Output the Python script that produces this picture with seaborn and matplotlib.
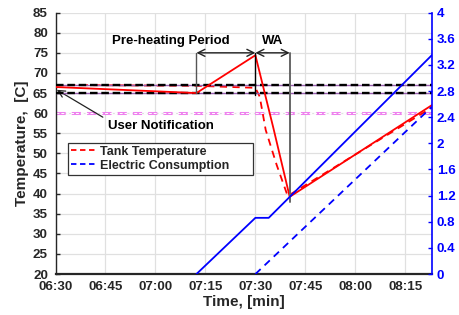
import numpy as np
import pandas as pd
import matplotlib
matplotlib.use("Agg")
import matplotlib.pyplot as plt
import seaborn as sns
from matplotlib.lines import Line2D

# ---- data (minutes since midnight) ----
tank_solid_t = [390, 432.3, 450, 455.4, 460.3, 503]
tank_solid_v = [66.5, 65.0, 74.4, 56.3, 39.2, 62.0]

tank_dash_t = [390, 432.3, 450, 451.3, 453.1, 456.4, 459.7, 503]
tank_dash_v = [67.0, 66.8, 66.3, 64.1, 55.8, 47.1, 39.4, 61.4]

elec_solid_t = [432.3, 450, 454, 503]
elec_solid_v = [0, 0.86, 0.86, 3.35]

elec_dash_t = [450, 503]
elec_dash_v = [0, 2.56]

upper_band = 67
lower_band = 65
notify_level = 60

xticks = [390, 405, 420, 435, 450, 465, 480, 495]
xtick_labels = ["06:30", "06:45", "07:00", "07:15", "07:30", "07:45", "08:00", "08:15"]
yticks_left = list(range(20, 90, 5))
yticks_right = [0, 0.4, 0.8, 1.2, 1.6, 2, 2.4, 2.8, 3.2, 3.6, 4]
ytick_right_labels = ["0", "0.4", "0.8", "1.2", "1.6", "2", "2.4", "2.8", "3.2", "3.6", "4"]

preheat_start = 432.3
preheat_end = 450
wa_end = 460.3

sns.set_style("whitegrid")
plt.rcParams['font.family'] = ['Liberation Sans', 'DejaVu Sans']
plt.rcParams['font.weight'] = 'bold'

fig = plt.figure(figsize=(4.6, 3.15), dpi=100)
ax = fig.add_axes([0.1207, 0.130, 0.8183, 0.830])
ax2 = ax.twinx()

RED = '#ff0000'
BLUE = '#0000ff'
DARK = '#262626'

# reference lines
ax.axhline(notify_level, color='violet', lw=2.2, ls=(0, (3, 2)), zorder=2)
ax.axhline(notify_level, color='white', lw=0.7, ls=(0, (3, 2)), zorder=2.1)
for lvl in (upper_band, lower_band):
    ax.axhline(lvl, color='#9a5fb0', lw=1.0, zorder=3.1)
    ax.axhline(lvl, color='black', lw=1.7, ls=(0, (3.2, 1.6)), zorder=3.2)

df_ts = pd.DataFrame({'t': tank_solid_t, 'v': tank_solid_v})
df_td = pd.DataFrame({'t': tank_dash_t, 'v': tank_dash_v})
sns.lineplot(data=df_td, x='t', y='v', ax=ax, color=RED, lw=1.3, sort=False,
             estimator=None, zorder=3)
ax.lines[-1].set_linestyle((0, (4, 3)))
sns.lineplot(data=df_ts, x='t', y='v', ax=ax, color=RED, lw=1.3, sort=False,
             estimator=None, zorder=3.5)

df_es = pd.DataFrame({'t': elec_solid_t, 'v': elec_solid_v})
df_ed = pd.DataFrame({'t': elec_dash_t, 'v': elec_dash_v})
sns.lineplot(data=df_es, x='t', y='v', ax=ax2, color=BLUE, lw=1.3, sort=False,
             estimator=None, zorder=3)
sns.lineplot(data=df_ed, x='t', y='v', ax=ax2, color=BLUE, lw=1.3, sort=False,
             estimator=None, zorder=3)
ax2.lines[-1].set_linestyle((0, (4, 3)))

# annotations
ax.plot([preheat_start, preheat_start], [lower_band, 75], color='#555555', lw=1.0, zorder=4)
ax.plot([preheat_end, preheat_end], [lower_band - 0.5, 75], color='black', lw=1.0, zorder=4)
ax.plot([wa_end, wa_end], [38, 75], color='#666666', lw=1.4, zorder=4)
arrow = dict(arrowstyle='<->,head_length=0.5,head_width=0.25', color='#222222', lw=1.0,
             shrinkA=0, shrinkB=0)
ax.annotate('', xy=(preheat_start, 75), xytext=(preheat_end, 75), arrowprops=arrow, zorder=5)
ax.annotate('', xy=(preheat_end, 75), xytext=(wa_end, 75), arrowprops=arrow, zorder=5)
ax.text(424.5, 77.9, 'Pre-heating Period', ha='center', va='center', fontsize=9.5,
        fontweight='bold', color='black')
ax.text(455.3, 77.9, 'WA', ha='center', va='center', fontsize=9.5, fontweight='bold',
        color='black')
ax.annotate('', xy=(390.4, 65.8), xytext=(404.2, 59.0),
            arrowprops=dict(arrowstyle='->,head_length=0.5,head_width=0.25', color='#222222',
                            lw=0.9, shrinkA=0, shrinkB=0))
ax.text(421.6, 56.8, 'User Notification', ha='center', va='center', fontsize=9.5,
        fontweight='bold', color='black')

# axes
ax.set_xlim(390, 503)
ax.set_ylim(20, 85)
ax2.set_ylim(0, 4)
ax.set_xticks(xticks)
ax.set_xticklabels(xtick_labels)
ax.set_yticks(yticks_left)
ax2.set_yticks(yticks_right)
ax2.set_yticklabels(ytick_right_labels)
ax2.grid(False)
ax.grid(True, color='#e0e0e0', lw=0.9)
ax.set_axisbelow(True)

ax.tick_params(axis='both', labelsize=9.6, colors=DARK, direction='in', length=3, width=1)
ax.tick_params(axis='x', pad=5)
ax.tick_params(axis='y', pad=5.5)
for lab in ax.get_xticklabels() + ax.get_yticklabels():
    lab.set_fontweight('bold')
ax2.tick_params(axis='y', labelsize=9.6, colors=BLUE, direction='in', length=3, width=1, pad=3.5)
for lab in ax2.get_yticklabels():
    lab.set_fontweight('bold')

ax.set_xlabel('Time, [min]', fontsize=11, fontweight='bold', color=DARK, labelpad=1.5)
ax.set_ylabel('Temperature,  [C]', fontsize=11, fontweight='bold', color=DARK, labelpad=3)
ax2.set_ylabel('')

ax.spines['top'].set_visible(False)
ax2.spines['top'].set_visible(False)
ax.spines['left'].set_color(DARK)
ax.spines['bottom'].set_color(DARK)
ax.spines['left'].set_linewidth(1.0)
ax.spines['bottom'].set_linewidth(1.6)
ax2.spines['right'].set_color(BLUE)
ax2.spines['right'].set_linewidth(1.2)
for s in ('left', 'bottom'):
    ax2.spines[s].set_visible(False)
ax.spines['right'].set_visible(False)

# legend
handles = [Line2D([], [], color=RED, lw=1.3, ls=(0, (3, 2))),
           Line2D([], [], color=BLUE, lw=1.3, ls=(0, (3, 2)))]
leg = ax.legend(handles, ['Tank Temperature', 'Electric Consumption'],
                loc='upper left', bbox_to_anchor=(0.034, 0.383, 0.491, 0.12), mode='expand',
                fontsize=9,
                frameon=True, fancybox=False, framealpha=1, edgecolor='#333333',
                handlelength=2.0, handletextpad=0.3, borderpad=0.25, labelspacing=0.15,
                borderaxespad=0)
leg.get_frame().set_linewidth(0.9)
for t in leg.get_texts():
    t.set_fontweight('bold')
leg.set_zorder(6)

fig.savefig('out.png', dpi=100)
